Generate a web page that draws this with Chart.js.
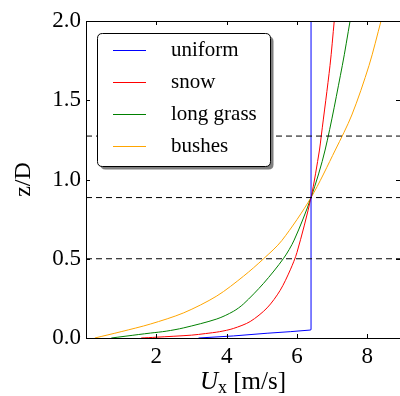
<!DOCTYPE html>
<html>
<head>
<meta charset="utf-8">
<script src="https://cdn.jsdelivr.net/npm/chart.js@4"></script>
<style>
  html, body { margin: 0; padding: 0; background: #fff; }
  #wrap { width: 400px; height: 396px; }
</style>
</head>
<body>
<div id="wrap"><canvas id="perfil" width="400" height="396"></canvas></div>
<script>
// Datos (U en m/s, z/D)
const uniformU = [3.2, 4.19, 5.15, 5.81, 6.37, 6.40, 6.40];
const uniformZ = [0.0, 0.013, 0.03, 0.04, 0.05, 0.052, 2.0];

const snowU = [1.57, 2.0, 3.0, 3.4, 3.8, 4.19, 4.67, 5.15, 5.52, 5.81, 6.0, 6.4, 6.64, 6.69, 6.94, 7.06];
const snowZ = [0.0, 0.005, 0.018, 0.028, 0.04, 0.06, 0.104, 0.19, 0.30, 0.43, 0.54, 0.886, 1.186, 1.274, 1.72, 2.0];

const grassU = [0.72, 1.5, 1.83, 2.28, 2.78, 3.72, 4.19, 4.48, 5.05, 5.62, 5.92, 6.4, 6.8, 7.29, 7.51];
const grassZ = [0.0, 0.022, 0.031, 0.043, 0.064, 0.12, 0.168, 0.215, 0.345, 0.503, 0.618, 0.886, 1.186, 1.72, 2.0];

const bushesU = [0.25, 1.0, 1.83, 2.78, 3.72, 4.48, 5.05, 5.57, 6.4, 7.09, 7.56, 8.05, 8.39];
const bushesZ = [0.0, 0.04, 0.088, 0.159, 0.265, 0.39, 0.5, 0.615, 0.886, 1.186, 1.407, 1.72, 2.0];

const nivelesZ = [0.5, 0.886, 1.274]; // lineas discontinuas

const xTicks = [2, 4, 6, 8];
const yTicks = [0.0, 0.5, 1.0, 1.5, 2.0];
const xMin = 0, xMax = 8.93;
const yMin = 0, yMax = 2.0;

const fuente = "'Liberation Serif', 'DejaVu Serif', serif";

function puntos(us, zs) {
  return us.map((u, i) => ({ x: u, y: zs[i] }));
}

function serie(label, us, zs, color, suave) {
  return {
    label: label,
    data: puntos(us, zs),
    borderColor: color,
    backgroundColor: color,
    borderWidth: 1,
    pointRadius: 0,
    fill: false,
    tension: suave ? 0.3 : 0
  };
}

const datasets = [
  serie('uniform', uniformU, uniformZ, '#0000ff', false),
  serie('snow', snowU, snowZ, '#ff0000', true),
  serie('long grass', grassU, grassZ, '#008000', true),
  serie('bushes', bushesU, bushesZ, '#ffa500', true)
];

nivelesZ.forEach(z => {
  datasets.unshift({
    label: '',
    esNivel: true,
    data: [{ x: xMin, y: z }, { x: xMax, y: z }],
    borderColor: '#000',
    borderWidth: 1,
    borderDash: [6, 4],
    pointRadius: 0,
    fill: false
  });
});

// Marcas hacia dentro, eje superior y titulos
const ejesPlugin = {
  id: 'ejes',
  afterDraw(chart) {
    const ctx = chart.ctx;
    const a = chart.chartArea;
    const sx = chart.scales.x, sy = chart.scales.y;
    ctx.save();
    ctx.strokeStyle = '#000';
    ctx.lineWidth = 1;
    ctx.beginPath();
    ctx.moveTo(a.left, a.top + 0.5);
    ctx.lineTo(a.right, a.top + 0.5);
    xTicks.forEach(v => {
      const px = Math.round(sx.getPixelForValue(v)) + 0.5;
      ctx.moveTo(px, a.bottom); ctx.lineTo(px, a.bottom - 4);
      ctx.moveTo(px, a.top); ctx.lineTo(px, a.top + 4);
    });
    yTicks.forEach(v => {
      const py = Math.round(sy.getPixelForValue(v)) + 0.5;
      ctx.moveTo(a.left, py); ctx.lineTo(a.left + 4, py);
      ctx.moveTo(a.right, py); ctx.lineTo(a.right - 4, py);
    });
    ctx.stroke();

    // titulo eje x: U_x [m/s]
    ctx.fillStyle = '#000';
    ctx.textBaseline = 'alphabetic';
    const base = 389;
    ctx.font = 'italic 25px ' + fuente;
    const wU = ctx.measureText('U').width;
    ctx.font = '18px ' + fuente;
    const wX = ctx.measureText('x').width;
    ctx.font = '25px ' + fuente;
    const wR = ctx.measureText(' [m/s]').width;
    let x0 = (a.left + a.right) / 2 - (wU + wX + wR) / 2;
    ctx.font = 'italic 25px ' + fuente;
    ctx.textAlign = 'left';
    ctx.fillText('U', x0, base);
    ctx.font = '18px ' + fuente;
    ctx.fillText('x', x0 + wU, base + 4);
    ctx.font = '25px ' + fuente;
    ctx.fillText(' [m/s]', x0 + wU + wX, base);

    // titulo eje y
    ctx.save();
    ctx.translate(30, (a.top + a.bottom) / 2);
    ctx.rotate(-Math.PI / 2);
    ctx.textAlign = 'center';
    ctx.font = '24px ' + fuente;
    ctx.fillText('z/D', 0, 0);
    ctx.restore();
    ctx.restore();
  }
};

// Leyenda con caja y sombra
const leyendaPlugin = {
  id: 'leyenda',
  afterDatasetsDraw(chart) {
    const ctx = chart.ctx;
    const items = chart.data.datasets.filter(d => !d.esNivel);
    const bx = 97.5, by = 33.5, bw = 173, bh = 133, r = 5;
    ctx.save();
    function caja(x, y) {
      ctx.beginPath();
      ctx.moveTo(x + r, y);
      ctx.lineTo(x + bw - r, y);
      ctx.quadraticCurveTo(x + bw, y, x + bw, y + r);
      ctx.lineTo(x + bw, y + bh - r);
      ctx.quadraticCurveTo(x + bw, y + bh, x + bw - r, y + bh);
      ctx.lineTo(x + r, y + bh);
      ctx.quadraticCurveTo(x, y + bh, x, y + bh - r);
      ctx.lineTo(x, y + r);
      ctx.quadraticCurveTo(x, y, x + r, y);
      ctx.closePath();
    }
    caja(bx + 3, by + 3);
    ctx.fillStyle = '#7f7f7f';
    ctx.fill();
    caja(bx, by);
    ctx.fillStyle = '#fff';
    ctx.fill();
    ctx.strokeStyle = '#000';
    ctx.lineWidth = 1;
    ctx.stroke();

    ctx.font = '21px ' + fuente;
    ctx.textBaseline = 'middle';
    ctx.textAlign = 'left';
    items.forEach((d, i) => {
      const y = 50.5 + i * 32;
      ctx.strokeStyle = d.borderColor;
      ctx.beginPath();
      ctx.moveTo(113, y);
      ctx.lineTo(146, y);
      ctx.stroke();
      ctx.fillStyle = '#000';
      ctx.fillText(d.label, 171, y);
    });
    ctx.restore();
  }
};

new Chart(document.getElementById('perfil'), {
  type: 'line',
  data: { datasets: datasets },
  options: {
    responsive: false,
    animation: false,
    layout: { padding: { top: 21, right: 0, left: 0, bottom: 0 } },
    plugins: {
      legend: { display: false },
      tooltip: { enabled: false }
    },
    scales: {
      x: {
        type: 'linear',
        min: xMin,
        max: xMax,
        afterFit: s => { s.height = 58; },
        afterBuildTicks: s => { s.ticks = xTicks.map(v => ({ value: v })); },
        grid: { display: false, drawTicks: false },
        border: { display: true, color: '#000', width: 1 },
        ticks: {
          color: '#000',
          padding: 5,
          font: { family: fuente, size: 23 },
          callback: v => String(v)
        }
      },
      y: {
        type: 'linear',
        min: yMin,
        max: yMax,
        afterFit: s => { s.width = 86; },
        afterBuildTicks: s => { s.ticks = yTicks.map(v => ({ value: v })); },
        grid: { display: false, drawTicks: false },
        border: { display: true, color: '#000', width: 1 },
        ticks: {
          color: '#000',
          padding: 5,
          font: { family: fuente, size: 23 },
          callback: v => Number(v).toFixed(1)
        }
      }
    }
  },
  plugins: [ejesPlugin, leyendaPlugin]
});
</script>
</body>
</html>
